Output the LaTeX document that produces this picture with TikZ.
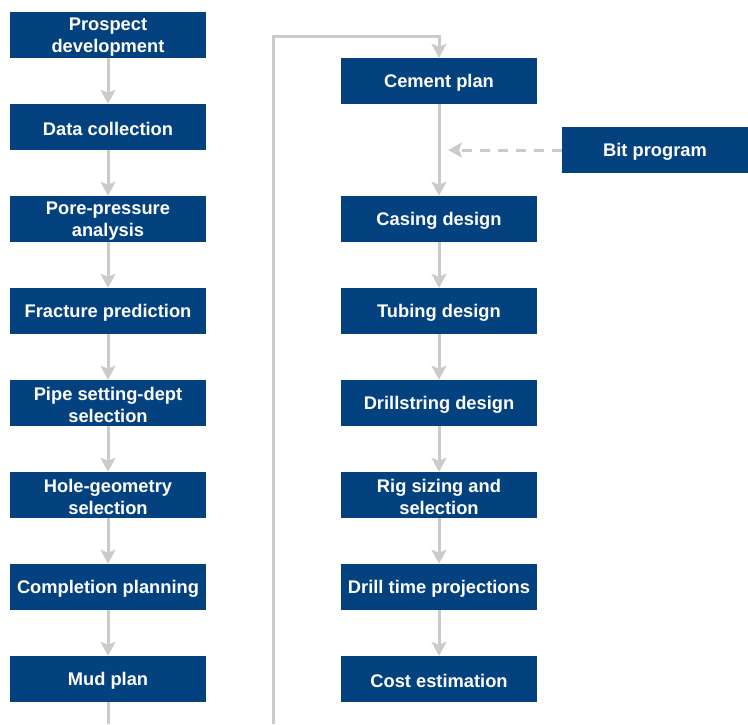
\documentclass[tikz,border=0pt]{standalone}
\usepackage{fontspec}
\setmainfont{Liberation Sans}
\usetikzlibrary{arrows.meta}
\definecolor{boxblue}{HTML}{03427F}
\definecolor{flowgrey}{HTML}{CBCBCB}
% a blue step box with its label set slightly below the geometric centre
\newcommand\stepnode[4][stepbox]{%
  \node[#1] (#2) at (#3) {};
  \node[steptext] (#2-text) at ([yshift=-2pt]#2.center) {#4};}
\begin{document}
\begin{tikzpicture}[x=1pt,y=-1pt,
  stepbox/.style={fill=boxblue,minimum width=196pt,minimum height=46pt,inner sep=0pt},
  bitbox/.style={stepbox,minimum width=186pt},
  steptext/.style={text=white,inner sep=0pt,align=center,
    font=\fontsize{18.3}{22}\selectfont\bfseries},
  flow/.style={draw=flowgrey,line width=3pt,-{Stealth[length=14pt,width=15pt,inset=3pt]}},
  plain/.style={draw=flowgrey,line width=3pt},
  dashflow/.style={flow,dash pattern=on 10pt off 8pt}]
\useasboundingbox (0,0) rectangle (748,724);
% left column
\stepnode{a1}{108,35}{Prospect\\development}
\stepnode{a2}{108,127}{Data collection}
\stepnode{a3}{108,219}{Pore-pressure\\analysis}
\stepnode{a4}{108,311}{Fracture prediction}
\stepnode{a5}{108,403}{Pipe setting-dept\\selection}
\stepnode{a6}{108,495}{Hole-geometry\\selection}
\stepnode{a7}{108,587}{Completion planning}
\stepnode{a8}{108,679}{Mud plan}
% right column
\stepnode{b1}{439,81}{Cement plan}
\stepnode{b2}{439,219}{Casing design}
\stepnode{b3}{439,311}{Tubing design}
\stepnode{b4}{439,403}{Drillstring design}
\stepnode{b5}{439,495}{Rig sizing and\\selection}
\stepnode{b6}{439,587}{Drill time projections}
\stepnode{b7}{439,679}{Cost estimation}
\stepnode[bitbox]{bit}{655,150}{Bit program}
% connectors
\foreach \u/\v in {a1/a2,a2/a3,a3/a4,a4/a5,a5/a6,a6/a7,a7/a8,
                   b1/b2,b2/b3,b3/b4,b4/b5,b5/b6,b6/b7}
  \draw[flow] (\u.south) -- (\v.north);
\coordinate (mudout) at (108,724);
\coordinate (loopin) at (273,724);
\draw[plain] (a8.south) -- (mudout);
\draw[flow] (loopin) -- (273,36) -| (b1.north);
\coordinate (bitin) at (448,150);
\draw[dashflow] (bit.west) -- (bitin);
\end{tikzpicture}
\end{document}
